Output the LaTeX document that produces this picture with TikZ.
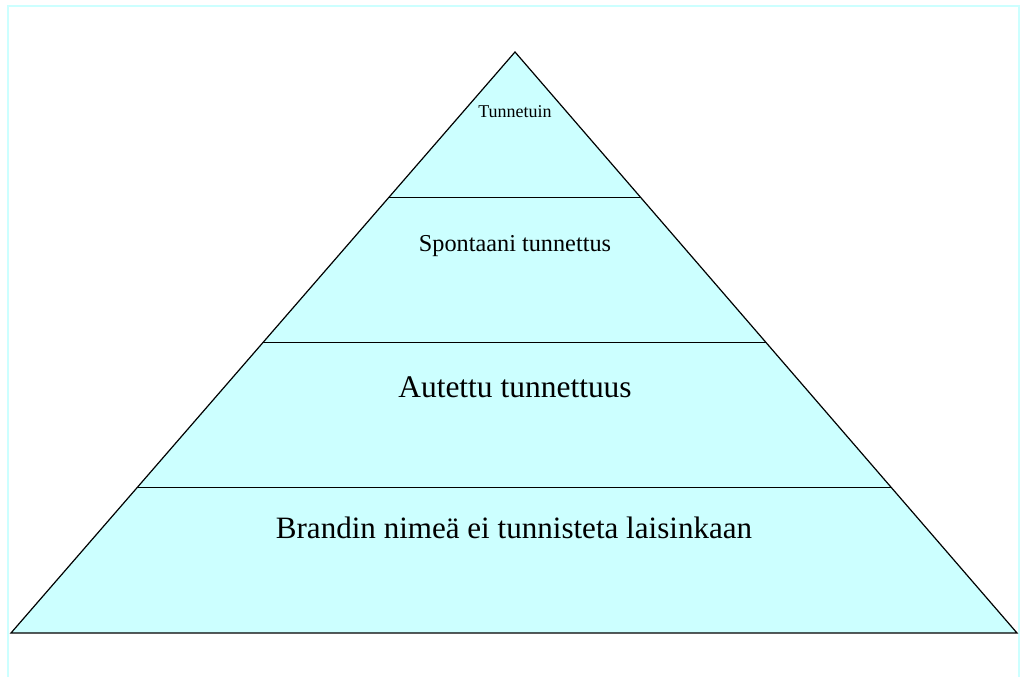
\documentclass[tikz,border=0pt]{standalone}
\usepackage{fontspec}
\setmainfont{Liberation Serif}
\definecolor{LevelColor}{RGB}{204,255,255}
\definecolor{FrameColor}{RGB}{204,255,255}
\usetikzlibrary{calc}
\tikzstyle{frame} = [line width=1.5pt, FrameColor]
\tikzstyle{level} = [line width=0.9pt, black]
\tikzstyle{label} = [anchor=base, inner sep=0pt, text=black]

\begin{document}
\begin{tikzpicture}[x=0.75pt, y=0.75pt]
            \useasboundingbox (0,0) rectangle (1020,677);
            % Frame
            \draw[frame] (8,-5) -- (8,671) -- (1019,671) -- (1019,-5);

            % Pyramid
            \coordinate (apex) at (515,625);
            \coordinate (bl) at (11,44);
            \coordinate (br) at (1017,44);
            \fill[LevelColor] (apex) -- (bl) -- (br) -- cycle;
            \draw[level, line join=miter] (bl) -- (apex) -- (br) -- cycle;

            % Levels
            \foreach \t/\n in {0.25/a, 0.5/b, 0.75/c} {
                \coordinate (l\n) at ($(apex)!\t!(bl)$);
                \coordinate (r\n) at ($(apex)!\t!(br)$);
                \draw[level] (l\n) -- (r\n);
            }

            % Texts
            \node[label, font=\fontsize{13.5}{16}\selectfont] (top) at (515,559) {Tunnetuin};
            \node[label, font=\fontsize{18.2}{22}\selectfont] (spont) at (515,425) {Spontaani tunnettus};
            \node[label, font=\fontsize{23.6}{28}\selectfont] (aided) at (515,279) {Autettu tunnettuus};
            \node[label, font=\fontsize{23.3}{28}\selectfont] (none) at (514,138) {Brandin nimeä ei tunnisteta laisinkaan};
        \end{tikzpicture}
\end{document}
